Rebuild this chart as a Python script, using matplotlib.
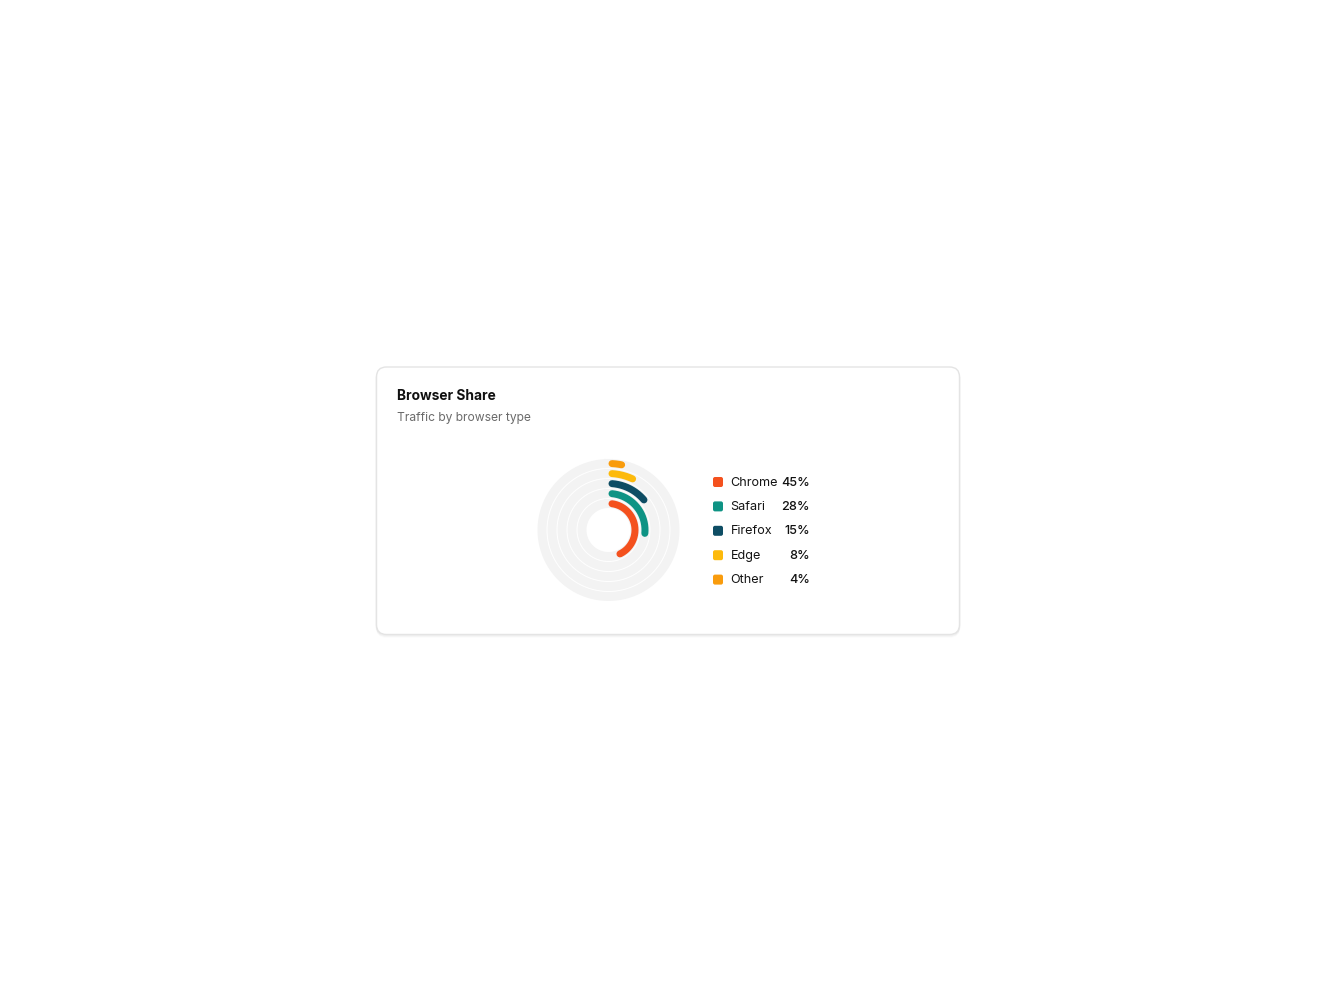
import matplotlib
matplotlib.use('Agg')
import matplotlib.pyplot as plt
from matplotlib.patches import FancyBboxPatch
import numpy as np

plt.rcParams['font.family'] = ['Inter', 'DejaVu Sans']

browsers = ['Chrome', 'Safari', 'Firefox', 'Edge', 'Other']
shares = [45, 28, 15, 8, 4]
colors = ['#F4511E', '#0E9384', '#0E4D64', '#FDBA0C', '#F99C0D']
title = 'Browser Share'
subtitle = 'Traffic by browser type'

W, H = 1336, 1002
fig = plt.figure(figsize=(W / 100, H / 100), dpi=100)
bg = fig.add_axes([0, 0, 1, 1])
bg.set_xlim(0, W)
bg.set_ylim(H, 0)
bg.axis('off')

# card with soft shadow
for i, a in enumerate([0.04, 0.03, 0.015]):
    bg.add_patch(FancyBboxPatch((376.5, 368 + i), 583, 267, boxstyle='round,pad=0,rounding_size=10',
                                fc='none', ec='#000000', lw=1.2, alpha=a, zorder=1))
bg.add_patch(FancyBboxPatch((376.5, 367), 583, 267.5, boxstyle='round,pad=0,rounding_size=10',
                            fc='white', ec='#e4e4e4', lw=1, zorder=2))

bg.text(397, 396, title, fontsize=9.9, fontweight='bold', color='#111111', va='center', zorder=3)
bg.text(397, 418, subtitle, fontsize=8.7, color='#6b6b6b', va='center', zorder=3)

# radial bars
cx, cy, half = 608.5, 530, 80
ax = fig.add_axes([(cx - half) / W, (H - cy - half) / H, 2 * half / W, 2 * half / H])
ax.set_xlim(-half, half)
ax.set_ylim(-half, half)
ax.set_aspect('equal')
ax.axis('off')

r0, step, width, track = 26.5, 10, 7, 9
t = np.linspace(0, 2 * np.pi, 400)
for i, (v, c) in enumerate(zip(shares, colors)):
    r = r0 + step * i
    ax.plot(r * np.sin(t), r * np.cos(t), color='#f3f3f3', lw=track * 0.72, zorder=1)
    cap = (width / 2) / r
    a = np.linspace(cap, v / 100 * 2 * np.pi - cap, 200)
    ax.plot(r * np.sin(a), r * np.cos(a), color=c, lw=width * 0.72, solid_capstyle='round', zorder=2)

# legend
y0, dy = 482, 24.4
for i, (name, v, c) in enumerate(zip(browsers, shares, colors)):
    y = y0 + dy * i
    bg.add_patch(FancyBboxPatch((713, y - 5), 10, 10, boxstyle='round,pad=0,rounding_size=2',
                                fc=c, ec='none', zorder=3))
    bg.text(730.5, y + 0.5, name, fontsize=9.1, color='#141414', va='center', zorder=3)
    bg.text(810, y + 0.5, f'{v}%', fontsize=9.1, fontweight='medium', color='#111111',
            va='center', ha='right', zorder=3)

fig.savefig('out.png', dpi=100, facecolor='white')
